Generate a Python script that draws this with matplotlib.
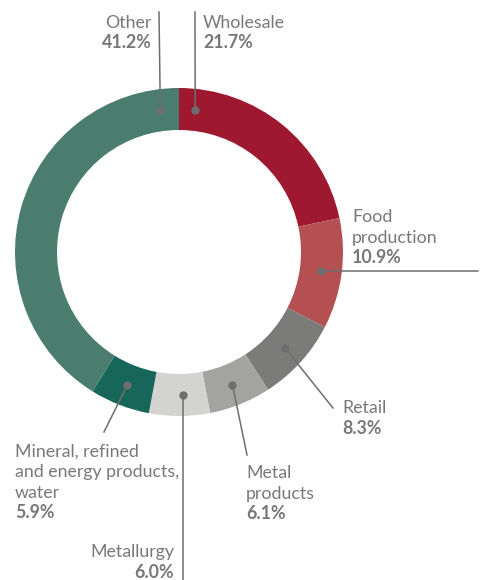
import numpy as np
import matplotlib.pyplot as plt

plt.rcParams['font.family'] = ['Lato', 'DejaVu Sans']

# data
sectors = ['Wholesale', 'Food\nproduction', 'Retail', 'Metal\nproducts', 'Metallurgy',
           'Mineral, refined\nand energy products,\nwater', 'Other']
shares = [21.7, 10.9, 8.3, 6.1, 6.0, 5.9, 41.2]
colors = ['#9e1830', '#b44f52', '#7b7c7a', '#a3a4a2', '#d3d4d2', '#17665a', '#4a7d6e']

# layout (pixel coords, y measured from top)
W, H = 483, 580
cx, cy, R, ring = 179, 252, 164, 42
# angle overrides where the dot is not at the slice middle
dot_angle = {0: 83.5, 4: -88.4, 6: 97.5}
# leader line end points
line_end = [(195, 12), (478, None), (333, 408), (247, 455), (None, 580), (104, 432), (159, 12)]
# text anchor: x, baseline of first line, alignment
text_pos = [(203, 28, 'left'), (352, 222, 'left'), (342, 413, 'left'), (246, 478, 'left'),
            (174, 557, 'right'), (15, 457, 'left'), (152, 28, 'right')]

txt_col = '#787878'
line_col = '#6e6e6e'
fs = 12.8
lh = 20.5

fig = plt.figure(figsize=(W / 100, H / 100), dpi=100)
ax = fig.add_axes([0, 0, 1, 1])
ax.set_xlim(0, W)
ax.set_ylim(0, H)
ax.set_aspect('equal')
ax.axis('off')

def fy(y):
    return H - y

wedges, _ = ax.pie(shares, colors=colors, startangle=90, counterclock=False,
                   center=(cx, fy(cy)), radius=R,
                   wedgeprops=dict(width=ring, linewidth=0))
ax.set_xlim(0, W)
ax.set_ylim(0, H)

rm = R - ring / 2
for i, w in enumerate(wedges):
    ang = dot_angle.get(i, (w.theta1 + w.theta2) / 2)
    dx = cx + rm * np.cos(np.radians(ang))
    dy = fy(cy) + rm * np.sin(np.radians(ang))
    ex, ey = line_end[i]
    ex = dx if ex is None else ex
    ey = dy if ey is None else fy(ey)
    ax.plot([dx, ex], [dy, ey], color=line_col, lw=1.1, zorder=3)
    ax.plot(dx, dy, 'o', color=line_col, ms=5, zorder=4)

    tx, ty, ha = text_pos[i]
    lines = sectors[i].split('\n')
    for k, ln in enumerate(lines):
        ax.text(tx, fy(ty + k * lh), ln, ha=ha, va='baseline', fontsize=fs, color=txt_col)
    ax.text(tx, fy(ty + len(lines) * lh), f'{shares[i]:.1f}%', ha=ha, va='baseline',
            fontsize=fs, color=txt_col, fontweight='bold')

fig.savefig('out.png', dpi=100)
